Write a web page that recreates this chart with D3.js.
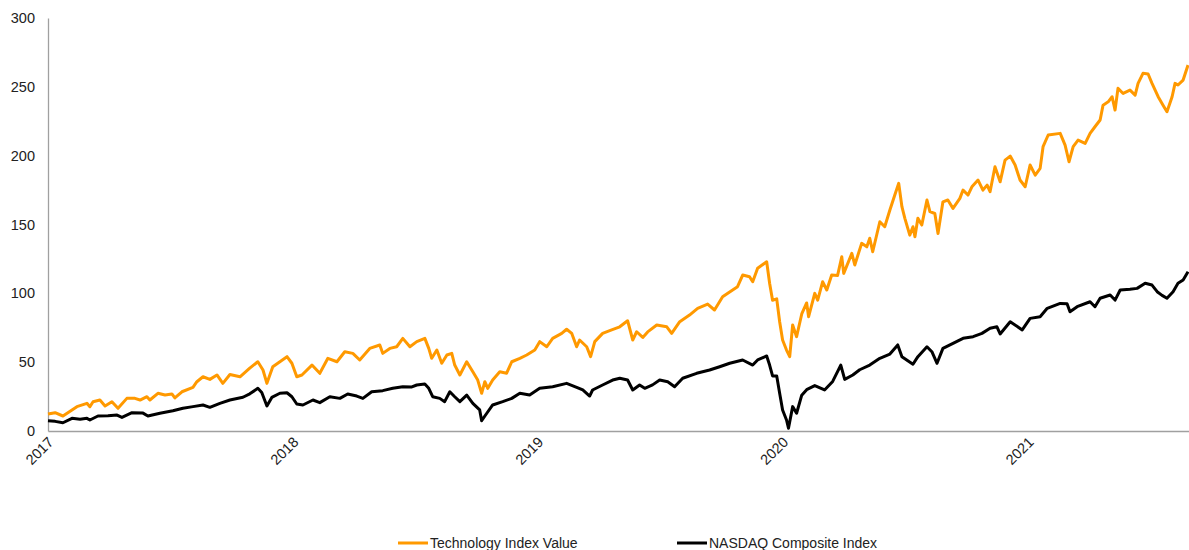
<!DOCTYPE html>
<html>
<head>
<meta charset="utf-8">
<script src="https://cdn.jsdelivr.net/npm/d3@7"></script>
<style>
  body { margin: 0; background: #fff; }
  #chart svg { display: block; font-family: "Liberation Sans", Arial, sans-serif; }
</style>
</head>
<body>
<div id="chart"></div>
<script>
// dates are given as fractional years (2017.5 = mid 2017)
const techDates = [
  2017.000, 2017.029, 2017.061, 2017.098, 2017.118, 2017.159, 2017.171, 2017.184, 2017.212, 2017.233,
  2017.261, 2017.286, 2017.322, 2017.355, 2017.376, 2017.404, 2017.416, 2017.449, 2017.478, 2017.506,
  2017.518, 2017.547, 2017.592, 2017.608, 2017.633, 2017.661, 2017.690, 2017.714, 2017.743, 2017.784,
  2017.824, 2017.857, 2017.878, 2017.894, 2017.918, 2017.947, 2017.976, 2017.996, 2018.016, 2018.037,
  2018.078, 2018.110, 2018.143, 2018.180, 2018.212, 2018.245, 2018.273, 2018.314, 2018.355, 2018.367,
  2018.396, 2018.424, 2018.449, 2018.478, 2018.506, 2018.539, 2018.555, 2018.567, 2018.588, 2018.608,
  2018.629, 2018.649, 2018.661, 2018.682, 2018.710, 2018.735, 2018.755, 2018.771, 2018.784, 2018.796,
  2018.816, 2018.845, 2018.873, 2018.894, 2018.927, 2018.955, 2018.988, 2019.008, 2019.037, 2019.061,
  2019.098, 2019.118, 2019.139, 2019.159, 2019.171, 2019.200, 2019.216, 2019.233, 2019.265, 2019.302,
  2019.335, 2019.367, 2019.388, 2019.404, 2019.429, 2019.449, 2019.486, 2019.527, 2019.547, 2019.580,
  2019.620, 2019.653, 2019.694, 2019.722, 2019.755, 2019.796, 2019.816, 2019.837, 2019.865, 2019.878,
  2019.898, 2019.935, 2019.947, 2019.959, 2019.976, 2019.988, 2020.000, 2020.016, 2020.029, 2020.041,
  2020.057, 2020.078, 2020.098, 2020.106, 2020.131, 2020.143, 2020.163, 2020.180, 2020.200, 2020.224,
  2020.241, 2020.249, 2020.282, 2020.294, 2020.322, 2020.343, 2020.355, 2020.367, 2020.396, 2020.416,
  2020.437, 2020.457, 2020.473, 2020.486, 2020.498, 2020.518, 2020.531, 2020.539, 2020.551, 2020.567,
  2020.588, 2020.600, 2020.620, 2020.633, 2020.653, 2020.673, 2020.694, 2020.722, 2020.735, 2020.755,
  2020.771, 2020.796, 2020.816, 2020.833, 2020.845, 2020.865, 2020.886, 2020.906, 2020.927, 2020.947,
  2020.967, 2020.988, 2021.008, 2021.029, 2021.049, 2021.061, 2021.082, 2021.131, 2021.151, 2021.167,
  2021.184, 2021.204, 2021.233, 2021.253, 2021.273, 2021.294, 2021.306, 2021.327, 2021.343, 2021.355,
  2021.367, 2021.388, 2021.416, 2021.437, 2021.449, 2021.469, 2021.490, 2021.506, 2021.531, 2021.551,
  2021.567, 2021.588, 2021.600, 2021.612, 2021.633, 2021.653
];
const techValues = [
  12.3, 13.3, 10.9, 15.3, 17.7, 20.1, 17.6, 21.3, 22.5, 18.2,
  21.3, 16.5, 23.7, 23.7, 22.5, 24.9, 22.5, 27.4, 26.1, 26.9,
  24.0, 28.5, 31.7, 35.8, 39.4, 37.5, 40.7, 34.6, 41.0, 39.4,
  45.7, 50.3, 44.3, 34.6, 46.7, 50.3, 54.0, 49.2, 39.4, 40.7,
  47.9, 41.9, 52.8, 50.3, 57.6, 56.4, 51.6, 60.0, 62.5, 56.4,
  60.0, 61.2, 67.3, 61.2, 64.9, 67.3, 60.0, 52.8, 58.8, 49.2,
  55.2, 56.4, 47.9, 40.7, 50.3, 43.0, 37.0, 27.4, 35.8, 31.0,
  37.0, 43.0, 42.0, 50.3, 52.8, 55.2, 58.8, 64.9, 61.2, 67.3,
  70.9, 73.9, 70.9, 61.2, 66.1, 61.2, 54.0, 64.9, 70.9, 73.4,
  75.7, 80.1, 66.1, 72.1, 68.0, 72.0, 77.0, 75.7, 70.9, 79.4,
  84.2, 89.1, 92.2, 87.9, 97.5, 102.4, 104.8, 113.3, 112.0, 108.4,
  118.2, 122.9, 107.3, 95.0, 96.0, 79.4, 66.1, 58.8, 54.0, 77.0,
  68.5, 85.0, 93.0, 83.0, 100.0, 95.1, 108.4, 102.4, 113.3, 113.0,
  126.6, 114.5, 129.0, 120.6, 136.3, 133.8, 140.0, 130.2, 152.0, 148.4,
  160.5, 171.4, 179.9, 162.9, 154.5, 142.3, 148.4, 141.1, 154.5, 149.6,
  167.8, 159.3, 158.0, 143.5, 166.5, 167.8, 161.7, 169.0, 175.0, 171.4,
  177.4, 182.3, 175.0, 178.6, 173.8, 191.9, 181.0, 196.8, 199.7, 193.2,
  182.3, 177.4, 193.2, 185.9, 190.8, 206.5, 215.0, 216.2, 207.7, 195.6,
  206.5, 211.3, 208.9, 216.2, 221.0, 225.9, 236.7, 239.1, 242.8, 233.1,
  248.9, 245.2, 247.6, 244.0, 252.5, 259.8, 259.3, 252.5, 242.8, 236.7,
  231.9, 242.8, 252.5, 251.3, 254.9, 265.8
];

const nasdaqDates = [
  2017.000, 2017.029, 2017.061, 2017.098, 2017.131, 2017.159, 2017.171, 2017.204, 2017.245, 2017.282,
  2017.302, 2017.343, 2017.388, 2017.408, 2017.457, 2017.510, 2017.551, 2017.592, 2017.633, 2017.661,
  2017.702, 2017.743, 2017.796, 2017.824, 2017.857, 2017.873, 2017.894, 2017.914, 2017.947, 2017.976,
  2017.996, 2018.016, 2018.041, 2018.082, 2018.110, 2018.151, 2018.192, 2018.224, 2018.261, 2018.286,
  2018.322, 2018.367, 2018.408, 2018.449, 2018.486, 2018.506, 2018.539, 2018.555, 2018.571, 2018.600,
  2018.620, 2018.641, 2018.661, 2018.682, 2018.710, 2018.735, 2018.763, 2018.771, 2018.792, 2018.816,
  2018.857, 2018.894, 2018.927, 2018.967, 2019.008, 2019.061, 2019.118, 2019.159, 2019.184, 2019.212,
  2019.224, 2019.265, 2019.306, 2019.335, 2019.367, 2019.388, 2019.416, 2019.437, 2019.469, 2019.498,
  2019.531, 2019.559, 2019.592, 2019.649, 2019.702, 2019.743, 2019.784, 2019.837, 2019.878, 2019.898,
  2019.935, 2019.947, 2019.959, 2019.976, 2019.988, 2020.000, 2020.016, 2020.024, 2020.041, 2020.057,
  2020.078, 2020.098, 2020.131, 2020.171, 2020.204, 2020.237, 2020.253, 2020.286, 2020.314, 2020.355,
  2020.396, 2020.437, 2020.469, 2020.486, 2020.531, 2020.551, 2020.588, 2020.608, 2020.629, 2020.653,
  2020.694, 2020.735, 2020.776, 2020.812, 2020.845, 2020.873, 2020.886, 2020.927, 2020.976, 2021.008,
  2021.049, 2021.078, 2021.131, 2021.159, 2021.171, 2021.200, 2021.253, 2021.273, 2021.294, 2021.335,
  2021.355, 2021.376, 2021.416, 2021.445, 2021.478, 2021.506, 2021.527, 2021.547, 2021.567, 2021.592,
  2021.612, 2021.633, 2021.653
];
const nasdaqValues = [
  7.5, 7.0, 6.0, 9.2, 8.5, 9.2, 8.0, 10.9, 11.0, 11.6,
  9.9, 13.3, 13.0, 10.9, 12.9, 14.7, 16.5, 17.7, 18.9, 17.2,
  20.1, 22.5, 24.5, 27.0, 31.0, 28.0, 18.2, 24.4, 27.4, 27.8,
  24.9, 19.6, 18.9, 22.5, 20.6, 24.9, 23.7, 26.9, 25.4, 23.7,
  28.5, 29.3, 31.0, 32.2, 32.0, 33.4, 34.1, 31.0, 24.9, 23.7,
  21.3, 28.5, 24.9, 21.3, 26.1, 20.1, 15.3, 7.5, 12.9, 18.9,
  21.3, 23.7, 27.4, 26.1, 31.0, 32.2, 34.6, 31.7, 29.8, 25.4,
  29.8, 33.4, 37.0, 38.3, 37.0, 29.8, 33.4, 31.0, 33.5, 37.0,
  35.8, 32.2, 38.3, 41.9, 44.3, 46.7, 49.2, 51.6, 47.9, 51.6,
  54.5, 47.9, 40.0, 40.0, 27.4, 15.3, 8.0, 2.0, 17.7, 12.9,
  26.0, 30.0, 33.0, 29.8, 36.0, 47.9, 37.5, 40.7, 44.5, 47.9,
  52.8, 55.9, 62.5, 54.0, 48.5, 54.0, 61.2, 57.6, 49.2, 60.0,
  63.7, 67.3, 68.5, 70.9, 74.6, 75.7, 70.5, 79.4, 73.4, 81.8,
  83.0, 89.1, 92.7, 92.5, 86.6, 90.3, 93.9, 90.3, 96.4, 98.8,
  95.1, 102.4, 102.9, 103.6, 107.3, 106.0, 101.2, 98.5, 96.4, 101.2,
  107.3, 109.7, 115.7
];

const yTicks = [0, 50, 100, 150, 200, 250, 300];
const yearTicks = [2017, 2018, 2019, 2020, 2021];
const lastDate = 2021.657;

const seriesNames = ["Technology Index Value", "NASDAQ Composite Index"];
const seriesColors = ["#ff9900", "#000000"];

// fractional year -> Date
function toDate(t) {
  const y = Math.floor(t);
  const a = new Date(y, 0, 1).getTime();
  const b = new Date(y + 1, 0, 1).getTime();
  return new Date(a + (t - y) * (b - a));
}

const width = 1189;
const height = 550;
const margin = { top: 18, right: 0, bottom: 119, left: 48 };

const svg = d3.select("#chart").append("svg")
  .attr("width", width)
  .attr("height", height);

const x = d3.scaleTime()
  .domain([toDate(2017), toDate(lastDate)])
  .range([margin.left, width - margin.right]);

const y = d3.scaleLinear()
  .domain([0, 300])
  .range([height - margin.bottom, margin.top]);

// y axis
const yAxis = svg.append("g")
  .attr("transform", `translate(${margin.left},0)`)
  .call(d3.axisLeft(y).tickValues(yTicks).tickSize(0).tickPadding(13));
yAxis.select(".domain").attr("stroke", "#a0a0a0").attr("stroke-width", 1.3);
yAxis.selectAll("text")
  .attr("font-size", 14.5)
  .attr("fill", "#222")
  .attr("font-family", "Liberation Sans, Arial, sans-serif");

// x axis
const xAxis = svg.append("g")
  .attr("transform", `translate(0,${height - margin.bottom})`)
  .call(d3.axisBottom(x)
    .tickValues(yearTicks.map(toDate))
    .tickFormat(d3.timeFormat("%Y"))
    .tickSize(0));
xAxis.select(".domain").attr("stroke", "#a0a0a0").attr("stroke-width", 1.3);
xAxis.selectAll("text")
  .attr("y", 0)
  .attr("dy", null)
  .attr("text-anchor", "end")
  .attr("transform", "translate(6,12) rotate(-45)")
  .attr("font-size", 14.5)
  .attr("fill", "#222")
  .attr("font-family", "Liberation Sans, Arial, sans-serif");

// lines
const line = d3.line()
  .x(d => x(toDate(d[0])))
  .y(d => y(d[1]));

const series = [
  d3.zip(techDates, techValues),
  d3.zip(nasdaqDates, nasdaqValues)
];

svg.append("g")
  .selectAll("path")
  .data(series)
  .enter().append("path")
  .attr("d", line)
  .attr("fill", "none")
  .attr("stroke", (d, i) => seriesColors[i])
  .attr("stroke-width", 3)
  .attr("stroke-linejoin", "round");

// legend
const legendX = [398, 677];
const legend = svg.append("g")
  .selectAll("g")
  .data(seriesNames)
  .enter().append("g")
  .attr("transform", (d, i) => `translate(${legendX[i]},543)`);

legend.append("line")
  .attr("x1", 0).attr("x2", 30)
  .attr("stroke", (d, i) => seriesColors[i])
  .attr("stroke-width", 3);

legend.append("text")
  .attr("x", 32)
  .attr("dy", "0.35em")
  .attr("font-size", 14)
  .attr("fill", "#222")
  .text(d => d);
</script>
</body>
</html>
